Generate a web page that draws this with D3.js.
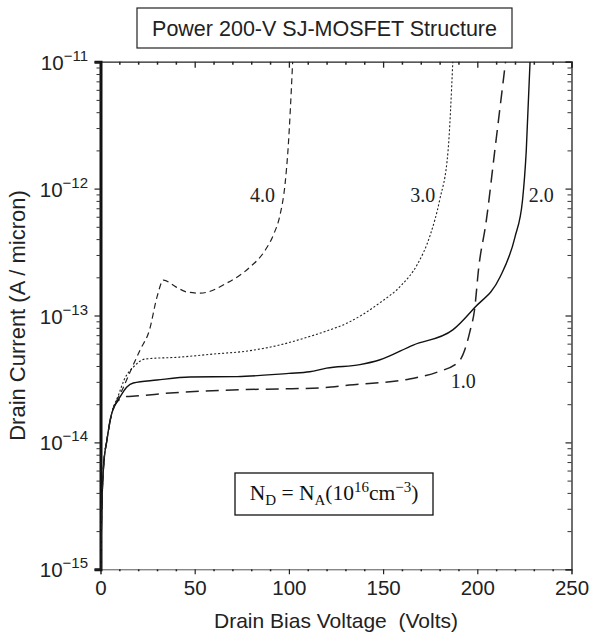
<!DOCTYPE html>
<html>
<head>
<meta charset="utf-8">
<script src="https://cdn.jsdelivr.net/npm/d3@7"></script>
<style>
  html, body { margin: 0; padding: 0; background: #fff; }
  svg { display: block; }
  text { white-space: pre; }
</style>
</head>
<body>
<svg id="chart" width="591" height="638"></svg>
<script>
// ---- data ----
const titleText = "Power 200-V SJ-MOSFET Structure";
const xLabel = "Drain Bias Voltage  (Volts)";
const yLabel = "Drain Current (A / micron)";
const xTicks = [0, 50, 100, 150, 200, 250];
const yTickExponents = [-15, -14, -13, -12, -11];

// ND = NA = 1.0 (long dash)
const v10 = [0.2, 0.5, 0.8, 1.6, 3.4, 6, 10.4, 14, 18.5, 37, 70, 95, 117, 132, 164, 179, 190, 194.5, 196, 198.5, 200.8, 204.6, 209.3, 215];
const i10 = [1.0e-15, 2.23e-15, 3.5e-15, 6.4e-15, 1.04e-14, 1.7e-14, 2.2e-14, 2.3e-14, 2.32e-14, 2.45e-14, 2.59e-14, 2.64e-14, 2.69e-14, 2.83e-14, 3.16e-14, 3.59e-14, 4.3e-14, 6.07e-14, 7.4e-14, 1.1e-13, 2.41e-13, 5.36e-13, 2.0e-12, 1.0e-11];
// 2.0 (solid)
const v20 = [0.2, 0.5, 0.8, 1.6, 3.4, 6, 10.4, 14, 17.4, 30, 47.5, 72.5, 100, 111, 120, 137.7, 148, 166, 187, 198.5, 212, 220, 224, 226, 228];
const i20 = [1.0e-15, 2.23e-15, 3.5e-15, 6.4e-15, 1.04e-14, 1.7e-14, 2.28e-14, 2.73e-14, 2.94e-14, 3.1e-14, 3.28e-14, 3.3e-14, 3.5e-14, 3.6e-14, 3.85e-14, 4.1e-14, 4.46e-14, 5.85e-14, 7.7e-14, 1.15e-13, 2.0e-13, 4.15e-13, 8.1e-13, 2.0e-12, 1.0e-11];
// 3.0 (dotted)
const v30 = [0.2, 0.5, 0.8, 1.6, 3.4, 6, 9.5, 12.5, 17.5, 23.7, 42, 60, 78, 95, 110, 120, 131, 148, 160, 168, 175, 180, 184.5, 187];
const i30 = [1.0e-15, 2.23e-15, 3.5e-15, 6.4e-15, 1.04e-14, 1.7e-14, 2.35e-14, 3.1e-14, 3.93e-14, 4.54e-14, 4.7e-14, 4.97e-14, 5.25e-14, 5.85e-14, 6.76e-14, 7.55e-14, 8.73e-14, 1.25e-13, 1.75e-13, 2.5e-13, 4.3e-13, 8.1e-13, 2.0e-12, 1.0e-11];
// 4.0 (short dash)
const v40 = [0.2, 0.5, 0.8, 1.6, 3.4, 6, 9, 11.5, 15.7, 21, 26, 30, 33.4, 40, 46, 53, 67, 79.4, 87, 92, 95.3, 98, 99.5, 102];
const i40 = [1.0e-15, 2.23e-15, 3.5e-15, 6.4e-15, 1.04e-14, 1.7e-14, 2.2e-14, 2.59e-14, 3.59e-14, 5.35e-14, 7.7e-14, 1.4e-13, 1.9e-13, 1.68e-13, 1.53e-13, 1.5e-13, 1.8e-13, 2.41e-13, 3.2e-13, 4.4e-13, 6.2e-13, 1.1e-12, 2.0e-12, 1.0e-11];

const curveLabels = ["1.0", "2.0", "3.0", "4.0"];
const labelAt = [[192.5, 2.69e-14], [234, 7.8e-13], [171, 7.8e-13], [86, 7.8e-13]];

// ---- layout ----
const svg = d3.select("#chart");
const L = 100.5, R = 571.5, T = 61.7, B = 569.3;
const x = d3.scaleLinear().domain([0, 250]).range([L, R]);
const y = d3.scaleLog().domain([1e-15, 1e-11]).range([B, T]);
const sans = "'Liberation Sans', Arial, Helvetica, sans-serif";
const serif = "'Liberation Serif', 'Times New Roman', serif";

// title box
const tg = svg.append("g");
tg.append("rect").attr("x", 137).attr("y", 8).attr("width", 375).attr("height", 40)
  .attr("fill", "none").attr("stroke", "#222").attr("stroke-width", 1.2);
tg.append("text").attr("x", 324.5).attr("y", 36)
  .attr("text-anchor", "middle").attr("font-family", sans).attr("font-size", 21.5)
  .attr("fill", "#222").text(titleText);

// minor tick values
const xMinor = d3.range(0, 251, 10).filter(v => v % 50 !== 0);
const yMinor = [];
for (let e = -15; e < -11; e++) for (let m = 2; m <= 9; m++) yMinor.push(m * Math.pow(10, e));

// bottom axis
const gb = svg.append("g").attr("transform", `translate(0,${B})`)
  .call(d3.axisBottom(x).tickValues(xTicks).tickSize(5).tickPadding(6).tickFormat(d3.format("d")));
gb.select(".domain").attr("stroke", "#555").attr("stroke-width", 1);
gb.selectAll("text").attr("font-family", sans).attr("font-size", 20.5).attr("fill", "#222");
gb.selectAll(".tick line").attr("stroke", "#222").attr("stroke-width", 1.2);
svg.append("g").attr("transform", `translate(0,${B})`)
  .call(d3.axisBottom(x).tickValues(xMinor).tickSize(2).tickFormat(""))
  .call(g => g.select(".domain").remove())
  .selectAll(".tick line").attr("stroke", "#222").attr("stroke-width", 1.5);

// top axis (inward ticks)
const gt = svg.append("g").attr("transform", `translate(0,${T})`)
  .call(d3.axisBottom(x).tickValues(xTicks).tickSize(6).tickFormat(""));
gt.select(".domain").attr("stroke", "#222").attr("stroke-width", 1.3);
gt.selectAll(".tick line").attr("stroke", "#222").attr("stroke-width", 1.3);
svg.append("g").attr("transform", `translate(0,${T})`)
  .call(d3.axisBottom(x).tickValues(xMinor).tickSize(3).tickFormat(""))
  .call(g => g.select(".domain").remove())
  .selectAll(".tick line").attr("stroke", "#222").attr("stroke-width", 1.5);

// left axis
const yMajor = yTickExponents.map(e => Math.pow(10, e));
const gl = svg.append("g").attr("transform", `translate(${L},0)`)
  .call(d3.axisLeft(y).tickValues(yMajor).tickSize(6).tickFormat(""));
gl.select(".domain").attr("stroke", "#111").attr("stroke-width", 3);
gl.selectAll(".tick line").attr("stroke", "#222").attr("stroke-width", 1.2);
svg.append("g").attr("transform", `translate(${L},0)`)
  .call(d3.axisLeft(y).tickValues(yMinor).tickSize(4).tickFormat(""))
  .call(g => g.select(".domain").remove())
  .selectAll(".tick line").attr("stroke", "#333").attr("stroke-width", 1);

// right axis (inward ticks)
const gr = svg.append("g").attr("transform", `translate(${R},0)`)
  .call(d3.axisRight(y).tickValues(yMajor).tickSize(-6).tickFormat(""));
gr.select(".domain").attr("stroke", "#222").attr("stroke-width", 1.3);
gr.selectAll(".tick line").attr("stroke", "#222").attr("stroke-width", 1.2);
svg.append("g").attr("transform", `translate(${R},0)`)
  .call(d3.axisRight(y).tickValues(yMinor).tickSize(-4).tickFormat(""))
  .call(g => g.select(".domain").remove())
  .selectAll(".tick line").attr("stroke", "#333").attr("stroke-width", 1);

// y tick labels 10^e
const ylab = svg.append("g");
yTickExponents.forEach(e => {
  const t = ylab.append("text").attr("x", 88).attr("y", y(Math.pow(10, e)) + 8)
    .attr("text-anchor", "end").attr("font-family", sans).attr("fill", "#222");
  t.append("tspan").attr("font-size", 20.5).text("10");
  t.append("tspan").attr("font-size", 15).attr("dy", -9).text("\u2212" + Math.abs(e));
});

// axis titles
svg.append("text").attr("x", x(125)).attr("y", 628).attr("text-anchor", "middle")
  .attr("font-family", sans).attr("font-size", 21).attr("fill", "#222").text(xLabel);
svg.append("text").attr("transform", `translate(25,${(T + B) / 2}) rotate(-90)`)
  .attr("text-anchor", "middle").attr("font-family", sans).attr("font-size", 22)
  .attr("fill", "#222").text(yLabel);

// curves
const line = d3.line().x(d => x(d[0])).y(d => y(d[1])).curve(d3.curveMonotoneX);
const series = [
  { v: v10, i: i10, dash: "13,7", w: 1.5, c: "#222" },
  { v: v20, i: i20, dash: null, w: 1.4, c: "#111" },
  { v: v30, i: i30, dash: "2,2", w: 1.1, c: "#222" },
  { v: v40, i: i40, dash: "6,4", w: 1.2, c: "#222" }
];
svg.append("clipPath").attr("id", "pc").append("rect")
  .attr("x", L).attr("y", T).attr("width", R - L).attr("height", B - T);
svg.append("g").attr("clip-path", "url(#pc)").selectAll("path").data(series).join("path")
  .attr("d", s => line(d3.zip(s.v, s.i)))
  .attr("fill", "none").attr("stroke", s => s.c).attr("stroke-width", s => s.w)
  .attr("stroke-dasharray", s => s.dash);

// curve labels
svg.append("g").selectAll("text").data(curveLabels).join("text")
  .attr("x", (d, k) => x(labelAt[k][0])).attr("y", (d, k) => y(labelAt[k][1]))
  .attr("text-anchor", "middle").attr("font-family", serif).attr("font-size", 20)
  .attr("fill", "#222").text(d => d);

// note box
const ng = svg.append("g");
ng.append("rect").attr("x", 235).attr("y", 473).attr("width", 198).attr("height", 42)
  .attr("fill", "none").attr("stroke", "#111").attr("stroke-width", 1.3);
const nt = ng.append("text").attr("x", 334).attr("y", 500).attr("text-anchor", "middle")
  .attr("font-family", serif).attr("font-size", 21.5).attr("fill", "#111");
nt.append("tspan").text("N");
nt.append("tspan").attr("font-size", 15).attr("dy", 5).text("D");
nt.append("tspan").attr("dy", -5).text(" = N");
nt.append("tspan").attr("font-size", 15).attr("dy", 5).text("A");
nt.append("tspan").attr("dy", -5).text("(10");
nt.append("tspan").attr("font-size", 15).attr("dy", -8).text("16");
nt.append("tspan").attr("dy", 8).text("cm");
nt.append("tspan").attr("font-size", 15).attr("dy", -8).text("\u22123");
nt.append("tspan").attr("dy", 8).text(")");
</script>
</body>
</html>
